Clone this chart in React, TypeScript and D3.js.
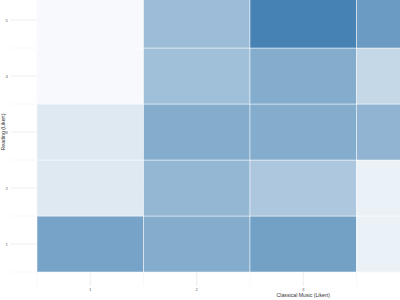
import React from "react";
import * as d3 from "d3";

const classicalLevels = [1, 2, 3, 4, 5];
const readingLevels = [1, 2, 3, 4, 5];
const reading1 = [33, 30, 34, 5, 4];
const reading2 = [8, 26, 20, 5, 8];
const reading3 = [8, 30, 30, 27, 18];
const reading4 = [2, 23, 30, 14, 20];
const reading5 = [2, 24, 45, 36, 30];
const xTickLabels = ["1", "2", "3", "4", "5"];
const yTickLabels = ["1", "2", "3", "4", "5"];
const xTitle = "Classical Music (Likert)";
const yTitle = "Reading (Likert)";

export default function App() {
  const W = 400, H = 300;
  const rows = [reading1, reading2, reading3, reading4, reading5];
  const x = d3.scaleLinear().domain([0.5, 5.5]).range([37, 569.5]);
  const y = d3.scaleLinear().domain([0.5, 5.5]).range([272, -8]);
  const maxV = d3.max(rows.flat()) as number;
  const color = d3.scaleLinear<string>().domain([0, maxV]).range(["#ffffff", "#4682b4"]).interpolate(d3.interpolateRgb);
  const xl = x(0.25), xr = x(5.75), yb = y(0.25), yt = y(5.75);
  const majors = [1, 2, 3, 4, 5];
  const minors = [0.5, 1.5, 2.5, 3.5, 4.5, 5.5];
  const cells: { cx: number; cy: number; v: number }[] = [];
  readingLevels.forEach((r, ri) => classicalLevels.forEach((c, ci) => cells.push({ cx: c, cy: r, v: rows[ri][ci] })));
  const visibleX = classicalLevels.filter((c) => x(c) < W - 10);
  return (
    <svg width={W} height={H} style={{ position: "absolute", left: 0, top: 0, background: "#fff" }} fontFamily="Liberation Sans, Arial, sans-serif">
      <rect x={0} y={0} width={W} height={H} fill="#fff" />
      <g stroke="#ededed" strokeWidth={0.4}>
        {minors.map((m) => <line key={"hm" + m} x1={xl} x2={xr} y1={y(m)} y2={y(m)} />)}
        {minors.map((m) => <line key={"vm" + m} y1={yb} y2={yt} x1={x(m)} x2={x(m)} />)}
      </g>
      <g stroke="#e6e6e6" strokeWidth={0.7}>
        {majors.map((m) => <line key={"hM" + m} x1={xl} x2={xr} y1={y(m)} y2={y(m)} />)}
        {majors.map((m) => <line key={"vM" + m} y1={yb} y2={yt} x1={x(m)} x2={x(m)} />)}
      </g>
      <g>
        {cells.map((d, i) => (
          <rect key={i} x={x(d.cx - 0.5)} y={y(d.cy + 0.5)} width={x(d.cx + 0.5) - x(d.cx - 0.5)} height={y(d.cy - 0.5) - y(d.cy + 0.5)}
            fill={color(d.v)} stroke="#ffffff" strokeOpacity={0.6} strokeWidth={0.8} />
        ))}
      </g>
      <g fontSize={4.3} fill="#666">
        {visibleX.map((c) => (
          <text key={"xt" + c} x={x(c)} y={291} textAnchor="middle">{xTickLabels[c - 1]}</text>
        ))}
        {readingLevels.map((r, i) => (
          <text key={"yt" + r} x={8} y={y(r) + 1.5} textAnchor="end">{yTickLabels[i]}</text>
        ))}
      </g>
      <text x={x(3)} y={296.5} textAnchor="middle" fontSize={5.2} fill="#333">{xTitle}</text>
      <text transform={`translate(5,${y(3)}) rotate(-90)`} textAnchor="middle" fontSize={5.2} fill="#333">{yTitle}</text>
    </svg>
  );
}
